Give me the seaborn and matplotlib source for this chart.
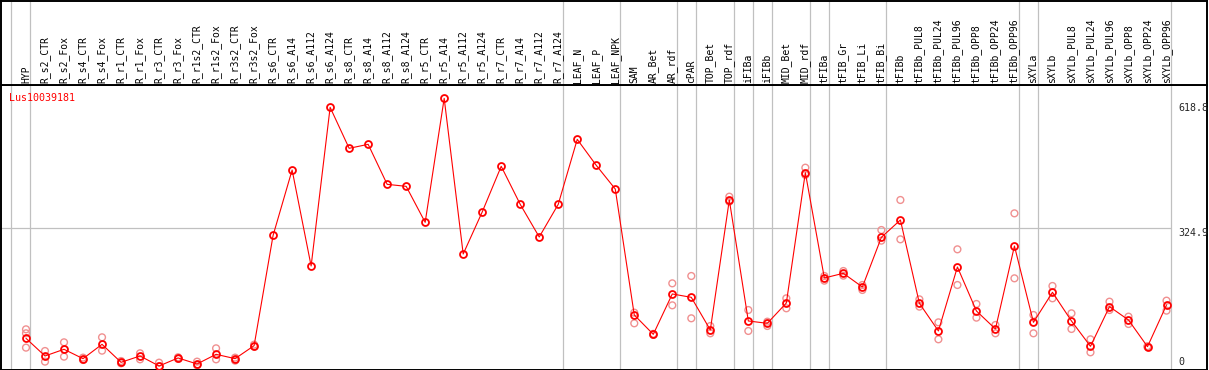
import numpy as np
import pandas as pd
import matplotlib
matplotlib.use("Agg")
import matplotlib.pyplot as plt
import seaborn as sns

# sample names (left to right)
categories = [
    "HYP", "R_s2_CTR", "R_s2_Fox", "R_s4_CTR", "R_s4_Fox", "R_r1_CTR", "R_r1_Fox",
    "R_r3_CTR", "R_r3_Fox", "R_r1s2_CTR", "R_r1s2_Fox", "R_r3s2_CTR", "R_r3s2_Fox",
    "R_s6_CTR", "R_s6_A14", "R_s6_A112", "R_s6_A124", "R_s8_CTR", "R_s8_A14",
    "R_s8_A112", "R_s8_A124", "R_r5_CTR", "R_r5_A14", "R_r5_A112", "R_r5_A124",
    "R_r7_CTR", "R_r7_A14", "R_r7_A112", "R_r7_A124", "LEAF_N", "LEAF_P", "LEAF_NPK",
    "SAM", "AR_Bet", "AR_rdf", "cPAR", "TOP_Bet", "TOP_rdf", "iFIBa", "iFIBb",
    "MID_Bet", "MID_rdf", "tFIBa", "tFIB_Gr", "tFIB_Li", "tFIB_Bi", "tFIBb",
    "tFIBb_PUL8", "tFIBb_PUL24", "tFIBb_PUL96", "tFIBb_OPP8", "tFIBb_OPP24",
    "tFIBb_OPP96", "sXYLa", "sXYLb", "sXYLb_PUL8", "sXYLb_PUL24", "sXYLb_PUL96",
    "sXYLb_OPP8", "sXYLb_OPP24", "sXYLb_OPP96",
]

# mean expression per sample
means = [
    65.5, 24.0, 39.7, 17.7, 51.4, 9.1, 24.0, 0.5, 19.3, 5.2, 27.9, 17.7, 48.3,
    307.7, 461.3, 235.6, 608.7, 512.3, 521.7, 427.6, 422.9, 338.3, 629.8, 263.8,
    362.6, 470.0, 380.6, 303.8, 380.6, 533.4, 472.3, 416.6,
    120.4, 74.9, 169.8, 161.9, 85.1, 390.8, 106.3, 100.8, 148.6, 455.1,
    207.4, 218.4, 186.2, 303.0, 343.8, 147.8, 82.8, 233.3, 129.8, 87.5, 282.6,
    103.1, 173.7, 106.3, 46.7, 140.0, 108.6, 45.9, 143.9,
]

# individual replicates per sample
replicates = [
    [86.7, 77.3, 43.6], [35.7, 10.7], [56.1, 22.4], [20.1, 14.6], [67.9, 36.5],
    [12.2, 6.7], [30.3, 16.1], [8.3, 0.0], [21.0, 17.0], [10.7, 2.0],
    [42.0, 16.1], [20.1, 13.0], [50.6, 46.0],
    [], [], [], [], [], [], [], [], [], [], [], [], [], [], [], [], [], [], [],
    [125.9, 100.8], [76.0, 73.5], [194.8, 143.1], [212.1, 112.6], [94.5, 77.3],
    [398.6, 386.9], [132.1, 82.8], [104.7, 94.5], [159.6, 136.1], [466.8, 449.6],
    [212.1, 201.1], [223.8, 212.9], [190.9, 179.2], [320.2, 295.2], [390.8, 298.3],
    [157.2, 140.0], [103.1, 63.2], [274.8, 190.9], [146.3, 114.1], [96.9, 77.3],
    [359.4, 206.6], [120.4, 77.3], [188.6, 159.6], [124.3, 87.5], [63.2, 32.6],
    [151.7, 132.1], [116.5, 99.2], [47.0, 45.0], [154.1, 130.6],
]

# first sample of each tissue group (separator drawn just before it)
group_starts = [0, 1, 29, 32, 35, 36, 38, 39, 40, 42, 43, 46, 53, 54, 61]

gene_id = "Lus10039181"
tick_values = [618.8, 324.9, 0]

sns.set_style("white")
plt.rcParams["font.family"] = ["DejaVu Sans Mono", "DejaVu Sans"]

df_mean = pd.DataFrame({"pos": np.arange(len(categories)), "value": means})
rep_rows = [(i, v) for i, reps in enumerate(replicates) for v in reps]
df_rep = pd.DataFrame(rep_rows, columns=["pos", "value"])

W, H = 1209, 370
fig = plt.figure(figsize=(W / 100, H / 100), dpi=100)
ax = fig.add_axes([1 / W, 0.5 / H, 1206 / W, 284.5 / H])
hdr = fig.add_axes([1 / W, 285 / H, 1206 / W, 84.5 / H], sharex=ax)

xlim = (-1.315, 62.13)
ax.set_xlim(*xlim)
ax.set_ylim(-7.8, 661.2)
hdr.set_ylim(0, 1)

grid_color = "#c0c0c0"
for g in group_starts:
    ax.axvline(g - 0.768, color=grid_color, lw=0.9, zorder=0)
    hdr.axvline(g - 0.768, color=grid_color, lw=0.9, zorder=0)
ax.hlines(324.9, xlim[0], 61 - 0.768, color=grid_color, lw=0.9, zorder=0)

sns.scatterplot(data=df_rep, x="pos", y="value", ax=ax, marker="o", s=24,
                facecolor="none", edgecolor="#f09090", linewidth=1.0, zorder=2)
sns.lineplot(data=df_mean, x="pos", y="value", ax=ax, color="red", lw=0.8,
             marker="o", markersize=5, markerfacecolor="none",
             markeredgecolor="red", markeredgewidth=1.3, zorder=3)

for i, name in enumerate(categories):
    hdr.text(i, 0.024, name, rotation=90, ha="center", va="bottom",
             fontsize=7, color="black")

ax.text(-0.894, 643, gene_id, color="red", fontsize=7.2, ha="left", va="top")
for v in tick_values:
    if v == 0:
        ax.text(60.6, 10, "0", fontsize=7.2, ha="left", va="center")
    else:
        ax.text(60.6, v, f"{v}", fontsize=7.2, ha="left", va="top")

for a in (ax, hdr):
    a.set_xticks([])
    a.set_yticks([])
    a.set_xlabel("")
    a.set_ylabel("")
    for sp in a.spines.values():
        sp.set_visible(True)
        sp.set_color("black")
        sp.set_linewidth(1.4)

fig.savefig("out.png", dpi=100)
